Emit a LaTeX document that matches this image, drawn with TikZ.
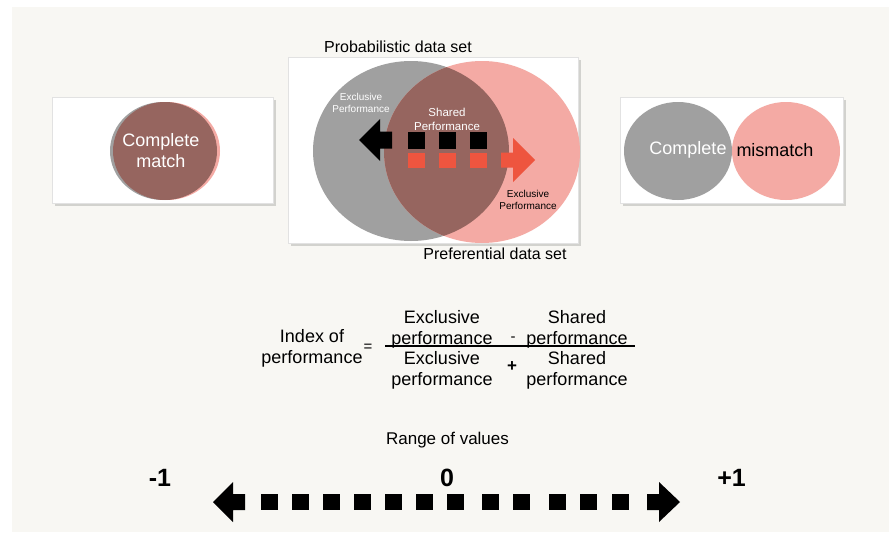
\documentclass[tikz,border=0pt]{standalone}
\usepackage{fontspec}
\setmainfont{Liberation Sans}
\definecolor{bgc}{HTML}{F8F7F3}
\definecolor{cgray}{HTML}{A0A0A0}
\definecolor{cpink}{HTML}{F4AAA4}
\definecolor{cbrown}{HTML}{96655F}
\definecolor{cred}{HTML}{EE553F}
\definecolor{shadowc}{HTML}{D2D2CE}
\definecolor{edgec}{HTML}{E2E2E2}
\begin{document}
\begin{tikzpicture}[x=1pt,y=-1pt,
  panel/.style={fill=white,draw=edgec,line width=0.6pt},
  shade/.style={fill=shadowc},
  lbl/.style={inner sep=0pt,font=\fontsize{18}{21}\selectfont,align=center},
  title/.style={inner sep=0pt,font=\fontsize{16}{19}\selectfont},
  tiny/.style={inner sep=0pt,font=\fontsize{10}{12}\selectfont,align=center},
  big/.style={inner sep=0pt,font=\fontsize{25}{28}\selectfont\bfseries}]
\useasboundingbox (0,0) rectangle (889,533);
\fill[white] (0,0) rectangle (889,533);
\fill[bgc] (12,7) rectangle (889,532);

% ---------- left box: complete match
\fill[shade] (55,100) rectangle (276,206);
\draw[panel] (52,97) rectangle (273,203);
\fill[cgray] (163,151) ellipse (53 and 49);
\fill[cpink] (167,151) ellipse (53 and 49);
\fill[cbrown] (165,151) ellipse (52 and 49);
\node[lbl,white] (cm) at (161,151) {Complete\\match};

% ---------- right box: complete mismatch
\fill[shade] (623,100) rectangle (846,206);
\draw[panel] (620,97) rectangle (843,203);
\fill[cgray] (678,151) ellipse (54 and 49);
\fill[cpink] (786,151) ellipse (54 and 49);
\node[lbl,white] (cmis1) at (688,150) {Complete};
\node[lbl,black] (cmis2) at (775,150) {mismatch};

% ---------- middle box: Venn
\fill[shade] (291,60) rectangle (581,246);
\draw[panel] (288,57) rectangle (578,243);
\fill[cgray] (411,151) ellipse (98 and 90);
\fill[cpink] (482,152) ellipse (98 and 91);
\begin{scope}
  \clip (411,151) ellipse (98 and 90);
  \fill[cbrown] (482,152) ellipse (98 and 91);
\end{scope}
\node[title] (prob) at (398,47) {Probabilistic data set};
\node[title] (pref) at (495,254) {Preferential data set};
\node[tiny,white] (ex1) at (361,103) {Exclusive\\Performance};
\node[inner sep=0pt,font=\fontsize{11.5}{14}\selectfont,align=center,white] (sh) at (447,119) {Shared\\Performance};
\node[tiny,black] (ex2) at (528,200) {Exclusive\\Performance};

% black arrow (to the left)
\fill[black] (359,140) -- (380,119) -- (380,131.5) -- (392,131.5) -- (392,148.5)
  -- (380,148.5) -- (380,161) -- cycle;
\foreach \cx in {416,447,478}
  \fill[black] (\cx-8.5,131.5) rectangle (\cx+8.5,148.5);
% red arrow (to the right)
\foreach \cx in {416,447,478}
  \fill[cred] (\cx-8.5,152.5) rectangle (\cx+8.5,167.5);
\fill[cred] (535,160) -- (513,138) -- (513,152.5) -- (501,152.5) -- (501,167.5)
  -- (513,167.5) -- (513,182) -- cycle;

% ---------- formula
\node[lbl] (idx) at (312,348) {Index of\\performance};
\node[inner sep=0pt,font=\fontsize{15}{15}\selectfont] (eq) at (368,348) {=};
\node[lbl] (n1) at (442,329) {Exclusive\\performance};
\node[lbl] (n2) at (577,329) {Shared\\performance};
\node[inner sep=0pt,font=\fontsize{15}{15}\selectfont] (minus) at (513,339) {-};
\node[lbl] (d1) at (442,370) {Exclusive\\performance};
\node[lbl] (d2) at (577,370) {Shared\\performance};
\node[inner sep=0pt,font=\fontsize{17}{17}\selectfont\bfseries] (plus) at (512,367) {+};
\coordinate (fl) at (385,346);
\coordinate (fr) at (635,346);
\draw[line width=1.2pt] (fl) -- (fr);

% ---------- range
\node[inner sep=0pt,font=\fontsize{17}{20}\selectfont] (rng) at (447.5,440) {Range of values};
\node[big] (m1) at (160,478) {-1};
\node[big] (z0) at (447,478) {0};
\node[big] (p1) at (731.5,478) {+1};
\fill[black] (213,502) -- (233,482) -- (233,494) -- (245,494) -- (245,510)
  -- (233,510) -- (233,522) -- cycle;
\fill[black] (680,502) -- (659,482) -- (659,494) -- (647,494) -- (647,510)
  -- (659,510) -- (659,522) -- cycle;
\foreach \cx in {269.5,300.5,331.5,362.5,393.5,424.5,455.5,490,521.5,557.5,588.5,620}
  \fill[black] (\cx-8.5,494) rectangle (\cx+8.5,510);
\end{tikzpicture}
\end{document}
